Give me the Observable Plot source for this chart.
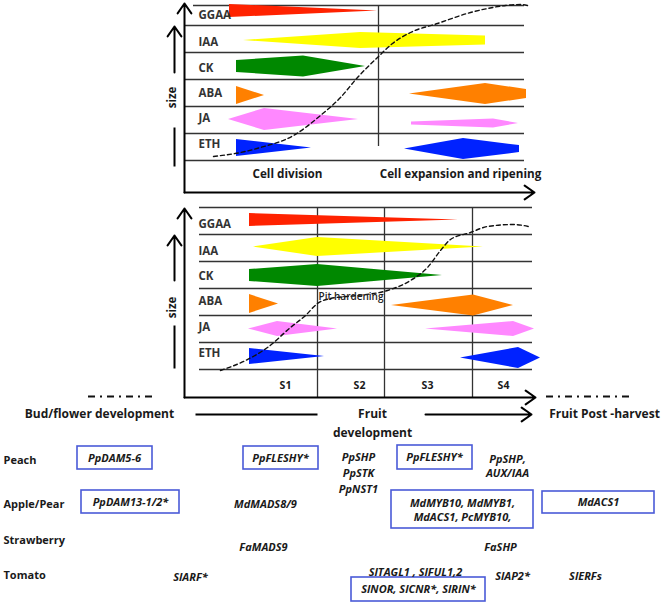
<!DOCTYPE html>
<html><head><meta charset="utf-8">
<script src="https://cdn.jsdelivr.net/npm/d3@7"></script>
<script src="https://cdn.jsdelivr.net/npm/@observablehq/plot@0.6"></script>
<style>body{margin:0;background:#fff} svg{display:block}</style>
</head><body><div id="chart"></div>
<script>
// ---- hormones & colours ----
const hormones = ["GGAA","IAA","CK","ABA","JA","ETH"];
const hormoneColors = {GGAA:"#ff2200", IAA:"#ffff00", CK:"#008800", ABA:"#ff8000", JA:"#ff88ff", ETH:"#0022ff"};

// ---- panel row lines (diagram units) ----
const topRowLines = [5,25,52,79,106,133,160];
const botRowLines = [207,234,261,288,315,342,369];
const topLabelY = [15,42,68,93,118,144];
const botLabelY = [224,251,276,301,327,353];

// ---- hormone level shapes: [hormone, centre, [[x, halfHeight], ...]] ----
const topShapes = [
  ["GGAA",10.5,[[229,6.5],[377,0]]],
  ["IAA",40,[[243,0],[360,8],[485,4.5]]],
  ["CK",66,[[236,6],[303,10.5],[365,0]]],
  ["ABA",95,[[236,9],[264,0]]],
  ["ABA",93.5,[[409,0],[485,10.5],[526,4.5]]],
  ["JA",119,[[228,0],[264,11],[358,0]]],
  ["JA",123,[[411,1.5],[493,4.5],[518,0]]],
  ["ETH",147.5,[[236,8.5],[311,0]]],
  ["ETH",148.5,[[404,0],[463,10.5],[519,3.5]]]
];
const botShapes = [
  ["GGAA",219.5,[[249,6.5],[458,0]]],
  ["IAA",246.5,[[253,0],[317,9.5],[483,0]]],
  ["CK",275,[[249,6],[317,11],[442,0]]],
  ["ABA",303.5,[[249,9.5],[278,0]]],
  ["ABA",305,[[391,0],[473,10.5],[513,0]]],
  ["JA",328.5,[[248,0],[277,7.5],[337,0]]],
  ["JA",328.5,[[425,0],[513,7.5],[534,0]]],
  ["ETH",356,[[249,8],[324,0]]],
  ["ETH",357.5,[[460,0],[518,10.5],[540,0]]]
];

// ---- fruit size curves ----
const topCurve = [[213,156],[240,152],[260,147],[293,135],[320,115],[340,97],[357,77],[377,57],[392,43],[410,32],[437,23],[470,12],[487,8],[505,5],[520,4],[527,5]];
const botCurve = [[220,370],[245,360],[267,347],[290,327],[305,315],[317,303],[330,298],[357,295],[387,290],[410,280],[427,267],[440,250],[450,239],[470,232],[487,226],[513,224],[528,226]];

// ---- stage labels ----
const stages = ["S1","S2","S3","S4"];
const stageX = [285,359,427,503];
const stageDividers = [317,384,472];

// ---- species & genes ----
const species = [["Peach",460],["Apple/Pear",504],["Strawberry",540],["Tomato",575]];
const genes = [
  ["PpDAM5-6",114,458],["PpFLESHY*",280,458],["PpSHP",358,457],["PpSTK",358,473],["PpNST1",358,489],
  ["PpFLESHY*",434,457],["PpSHP,",507,459],["AUX/IAA",507,473],
  ["PpDAM13-1/2*",130,502],["MdMADS8/9",265,504],["MdMYB10, MdMYB1,",462,503],["MdACS1, PcMYB10,",462,517],["MdACS1",598,502],
  ["FaMADS9",263,547],["FaSHP",500,547],
  ["SlARF*",190,577],["SlTAGL1 , SlFUL1,2",415,572],["SlNOR, SlCNR*, SlRIN*",418,589],["SlAP2*",512,576],["SlERFs",585,576]
];
const geneBoxes = [[77,152,446,469],[243,318,446,469],[397,472,445,469],[81,179,490,513],[391,533,490,528],[542,654,491,513],[351,485,577,601]];

// ---- build tables ----
function shapeRows(shapes, panel) {
  const rows = [];
  shapes.forEach(([h, c, pts], i) => pts.forEach(([x, hh]) =>
    rows.push({id: panel + i, x, lo: c - hh, hi: c + hh, color: hormoneColors[h]})));
  return rows;
}
const shapeData = shapeRows(topShapes, "t").concat(shapeRows(botShapes, "b"));
const curveData = topCurve.map(([x,y]) => ({x,y,id:"t"})).concat(botCurve.map(([x,y]) => ({x,y,id:"b"})));
const rowLineData = topRowLines.map((y,i) => ({y, x1: i === 0 ? 193 : 185, x2: 524}))
  .concat(botRowLines.map(y => ({y, x1: 199, x2: 532})));
const dividerData = [{x:378,y1:5,y2:146}].concat(stageDividers.map(x => ({x, y1:207, y2:397})));
const rowLabelData = hormones.map((h,i) => ({t:h, y:topLabelY[i]})).concat(hormones.map((h,i) => ({t:h, y:botLabelY[i]})));
const arrows = [
  {x1:184,y1:192,x2:184,y2:3},{x1:184,y1:192,x2:534,y2:192},
  {x1:184,y1:397,x2:184,y2:208},{x1:184,y1:397,x2:535,y2:397},
  {x1:174,y1:72,x2:174,y2:26},{x1:174,y1:280,x2:174,y2:235},
  {x1:425,y1:414,x2:531,y2:414}
];
const plainLines = [
  {x1:174,y1:127,x2:174,y2:166},{x1:174,y1:325,x2:174,y2:368},
  {x1:195,y1:414,x2:317,y2:414}
];
const dashDot = [{x1:88,x2:152,y:396},{x1:546,x2:633,y:396}];

const FONT = "'Open Sans', Lato, sans-serif";
const ink = "#1a1a1a";

const chart = Plot.plot({
  width: 666, height: 605,
  marginTop: 0, marginRight: 0, marginBottom: 0, marginLeft: 0,
  x: {domain: [0, 666], range: [0, 666], axis: null},
  y: {domain: [0, 605], range: [0, 605], axis: null},
  color: {type: "identity"},
  style: {background: "#fff", fontFamily: FONT},
  marks: [
    Plot.ruleY(rowLineData, {y: "y", x1: "x1", x2: "x2", stroke: "#333", strokeWidth: 1.3}),
    Plot.ruleX(dividerData, {x: "x", y1: "y1", y2: "y2", stroke: "#333", strokeWidth: 1.3}),
    Plot.areaY(shapeData, {x: "x", y1: "lo", y2: "hi", z: "id", fill: "color", curve: "linear"}),
    Plot.line(curveData, {x: "x", y: "y", z: "id", curve: "monotone-x", stroke: "#111", strokeWidth: 1.4, strokeDasharray: "4,3"}),
    Plot.arrow(arrows, {x1: "x1", y1: "y1", x2: "x2", y2: "y2", stroke: "#000", strokeWidth: 2, headLength: 9, headAngle: 70}),
    Plot.link(plainLines, {x1: "x1", y1: "y1", x2: "x2", y2: "y2", stroke: "#000", strokeWidth: 2}),
    Plot.ruleY(dashDot, {y: "y", x1: "x1", x2: "x2", stroke: "#111", strokeWidth: 2, strokeDasharray: "7,5,2,5"}),
    Plot.text(rowLabelData, {x: 198, y: "y", text: "t", textAnchor: "start", fontSize: 11.5, fontWeight: "bold", fill: "#333"}),
    Plot.text(["Cell division","Cell expansion and ripening"], {x: [287,460], y: [174,174], text: d => d, fontSize: 11.7, fontWeight: "bold", fill: ink}),
    Plot.text(["size","size"], {x: [172,172], y: [97,307], text: d => d, rotate: -90, fontSize: 11.5, fontWeight: "bold", fill: ink}),
    Plot.text(stages, {x: stageX, y: stages.map(() => 385), text: d => d, fontSize: 10.5, fontWeight: "bold", fill: ink}),
    Plot.text(["Pit hardening"], {x: [318], y: [296], text: d => d, textAnchor: "start", fontSize: 10, fontWeight: 600, fill: "#222"}),
    Plot.text(["Bud/flower development","Fruit","development","Fruit Post -harvest"], {x: [99,372,372,604], y: [414,414,433,414], text: d => d, fontSize: 12, fontWeight: "bold", fill: ink}),
    Plot.text(species, {x: 3, y: d => d[1], text: d => d[0], textAnchor: "start", fontSize: 11, fontWeight: "bold", fill: ink}),
    Plot.rect(geneBoxes, {x1: d => d[0], x2: d => d[1], y1: d => d[2], y2: d => d[3], fill: "none", stroke: "#4a5ad8", strokeWidth: 1.6}),
    Plot.text(genes, {x: d => d[1], y: d => d[2], text: d => d[0], fontSize: 11, fontWeight: "bold", fontStyle: "italic", fill: ink})
  ]
});
document.getElementById("chart").appendChild(chart);
</script>
</body></html>
